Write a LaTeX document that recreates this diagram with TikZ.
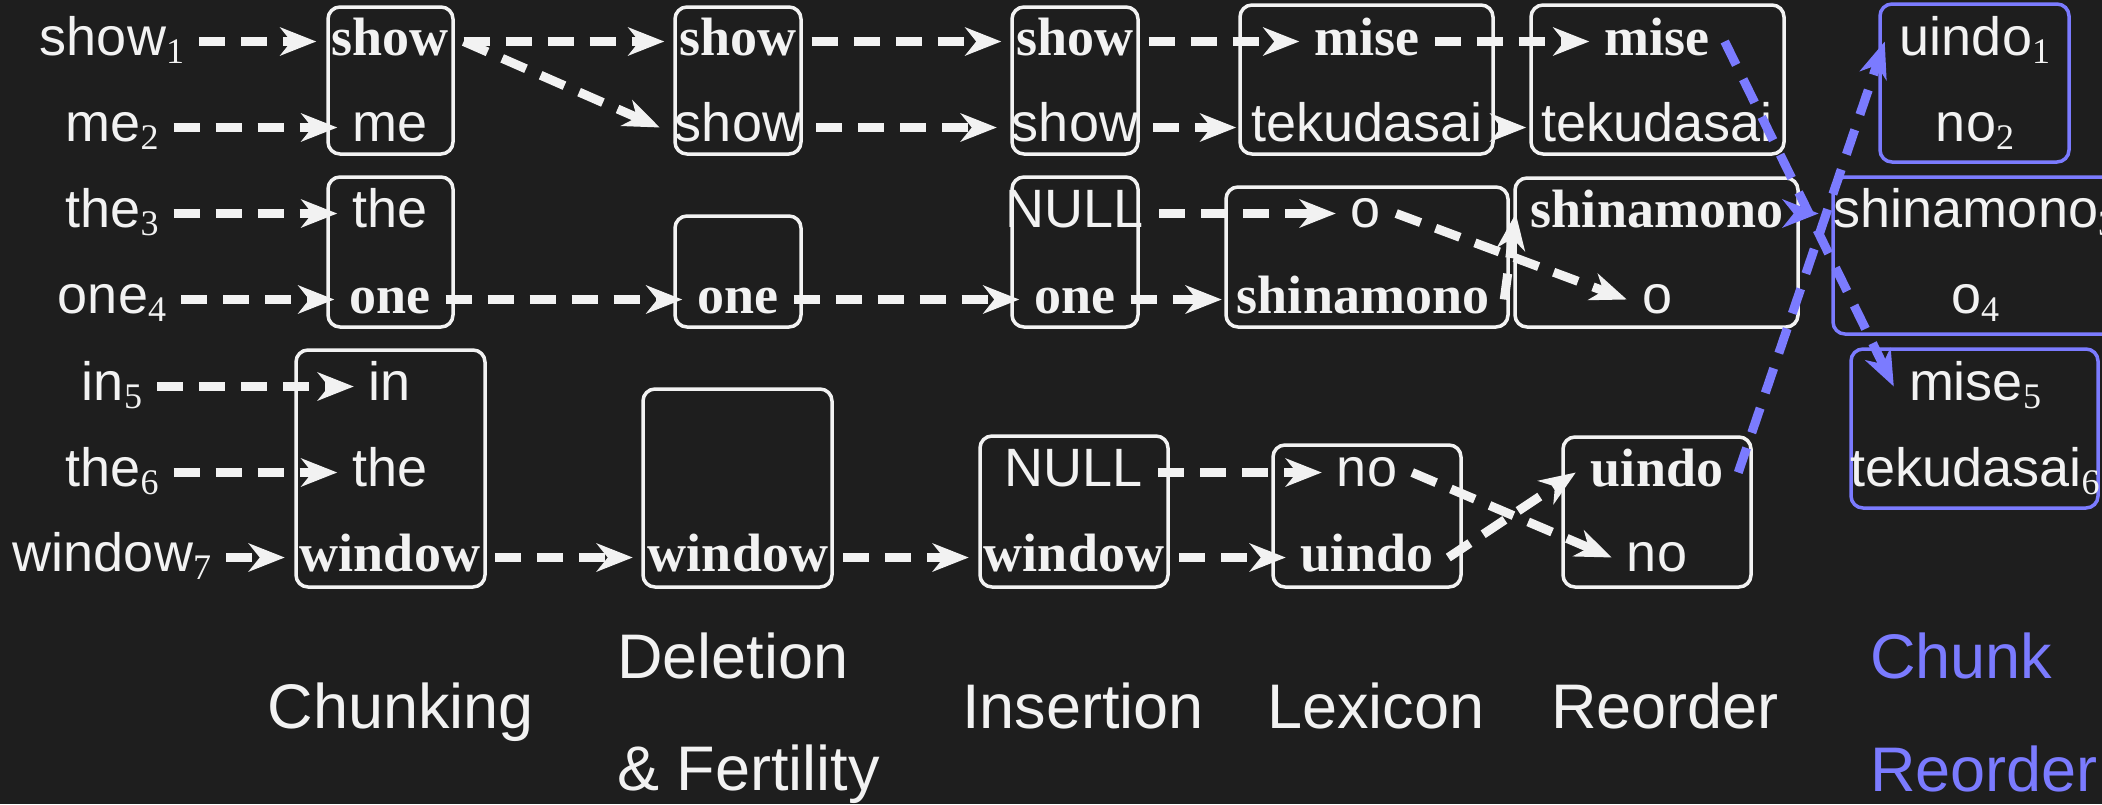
\documentclass[tikz,border=0pt]{standalone}
\usepackage{fontspec}
\setmainfont{Liberation Sans}
\newfontfamily\tms{Liberation Serif}
\usetikzlibrary{arrows.meta,fit}
\definecolor{bg}{HTML}{1E1E1E}
\definecolor{fg}{HTML}{F2F2F2}
\definecolor{chunkblue}{HTML}{7B7BFF}
% word position index, set as a lowered serif digit
\newcommand\idx[1]{\raisebox{-8pt}{\tms\fontsize{36}{36}\selectfont #1}}

\tikzset{
  word/.style={font=\fontsize{54}{60}\selectfont, text=fg, inner xsep=15pt, inner ysep=2pt,
               text height=39pt, text depth=12pt, anchor=base},
  kw/.style={word, font=\tms\bfseries\fontsize{54}{60}\selectfont},
  box/.style={draw=fg, line width=3.5pt, rounded corners=12pt, inner sep=0pt},
  bbox/.style={box, draw=chunkblue},
  flow/.style={color=fg, line width=9pt, dash pattern=on 26pt off 16pt,
               -{Stealth[length=36pt,width=28pt,inset=11pt]}},
  bflow/.style={flow, color=chunkblue},
  stage/.style={font=\fontsize{63}{70}\selectfont, text=fg, inner sep=0pt, anchor=base},
  bstage/.style={stage, text=chunkblue, anchor=base west},
}

\begin{document}
\begin{tikzpicture}[x=1pt,y=-1pt]
\useasboundingbox (0,0) rectangle (2102,804);
\clip (0,0) rectangle (2102,804);
\fill[bg] (0,0) rectangle (2102,804);

% row baselines
\def\ba{55}\def\bb{141}\def\bc{227}\def\bd{313}\def\be{400}\def\bf{486}\def\bg{571}

% stage boxes
\node[box, fit={(328,7) (453,154)}] (C1) {};
\node[box, fit={(328,177) (453,327)}] (C2) {};
\node[box, fit={(296,350) (485,587)}] (C3) {};
\node[box, fit={(675,7) (801,154)}] (D1) {};
\node[box, fit={(675,216) (801,327)}] (D2) {};
\node[box, fit={(643,389) (832,587)}] (D3) {};
\node[box, fit={(1012,7) (1138,154)}] (I1) {};
\node[box, fit={(1012,177) (1138,327)}] (I2) {};
\node[box, fit={(980,436) (1168,587)}] (I3) {};
\node[box, fit={(1240,5) (1493,154)}] (L1) {};
\node[box, fit={(1226,187) (1508,327)}] (L2) {};
\node[box, fit={(1273,445) (1461,587)}] (L3) {};
\node[box, fit={(1531,5) (1784,154)}] (R1) {};
\node[box, fit={(1515,178) (1798,327)}] (R2) {};
\node[box, fit={(1563,437) (1751,587)}] (R3) {};
\node[bbox, fit={(1880,4) (2069,162)}] (Q1) {};
\node[bbox, fit={(1833,177) (2117,334)}] (Q2) {};
\node[bbox, fit={(1851,349) (2098,508)}] (Q3) {};

% source sentence
\node[word] (s1) at (112,\ba) {show\idx{1}};
\node[word] (s2) at (112,\bb) {me\idx{2}};
\node[word] (s3) at (112,\bc) {the\idx{3}};
\node[word] (s4) at (112,\bd) {one\idx{4}};
\node[word] (s5) at (112,\be) {in\idx{5}};
\node[word] (s6) at (112,\bf) {the\idx{6}};
\node[word] (s7) at (112,\bg) {window\idx{7}};

% chunking
\node[kw]   (c1a) at (390,\ba) {show};
\node[word] (c1b) at (390,\bb) {me};
\node[word] (c2a) at (390,\bc) {the};
\node[kw]   (c2b) at (390,\bd) {one};
\node[word] (c3a) at (390,\be) {in};
\node[word] (c3b) at (390,\bf) {the};
\node[kw]   (c3c) at (390,\bg) {window};

% deletion and fertility
\node[kw]   (d1a) at (738,\ba) {show};
\node[word] (d1b) at (738,\bb) {show};
\node[kw]   (d2b) at (738,\bd) {one};
\node[kw]   (d3c) at (738,\bg) {window};

% insertion
\node[kw]   (i1a) at (1075,\ba) {show};
\node[word] (i1b) at (1075,\bb) {show};
\node[word] (i2a) at (1075,\bc) {NULL};
\node[kw]   (i2b) at (1075,\bd) {one};
\node[word] (i3b) at (1074,\bf) {NULL};
\node[kw]   (i3c) at (1074,\bg) {window};

% lexicon
\node[kw]   (l1a) at (1367,\ba) {mise};
\node[word] (l1b) at (1367,\bb) {tekudasai};
\node[word] (l2a) at (1366,\bc) {o};
\node[kw]   (l2b) at (1363,\bd) {shinamono};
\node[word] (l3b) at (1367,\bf) {no};
\node[kw]   (l3c) at (1367,\bg) {uindo};

% reorder
\node[kw]   (r1a) at (1657,\ba) {mise};
\node[word] (r1b) at (1657,\bb) {tekudasai};
\node[kw]   (r2a) at (1657,\bc) {shinamono};
\node[word] (r2b) at (1657,\bd) {o};
\node[kw]   (r3b) at (1657,\bf) {uindo};
\node[word] (r3c) at (1657,\bg) {no};

% chunk reorder
\node[word] (q1a) at (1975,\ba) {uindo\idx{1}};
\node[word] (q1b) at (1975,\bb) {no\idx{2}};
\node[word] (q2a) at (1975,\bc) {shinamono\idx{3}};
\node[word] (q2b) at (1975,\bd) {o\idx{4}};
\node[word] (q3a) at (1975,\be) {mise\idx{5}};
\node[word] (q3b) at (1975,\bf) {tekudasai\idx{6}};

% stage names
\node[stage] (n1) at (401,728) {Chunking};
\node[stage, anchor=base west] (n2a) at (617,678) {Deletion};
\node[stage, anchor=base west] (n2b) at (617,790) {\& Fertility};
\node[stage] (n3) at (1083,728) {Insertion};
\node[stage] (n4) at (1376,728) {Lexicon};
\node[stage] (n5) at (1665,728) {Reorder};
\node[bstage] (n6a) at (1870,678) {Chunk};
\node[bstage] (n6b) at (1870,791) {Reorder};

% source words into chunks
\draw[flow] (s1.east) -- (c1a.west);
\draw[flow] (s2.east) -- (c1b.west);
\draw[flow] (s3.east) -- (c2a.west);
\draw[flow] (s4.east) -- (c2b.west);
\draw[flow] (s5.east) -- (c3a.west);
\draw[flow] (s6.east) -- (c3b.west);
\draw[flow] (s7.east) -- (c3c.west);

% chunking -> deletion & fertility
\draw[flow] (c1a.east) -- (d1a.west);
\draw[flow] (c1a.east) -- (d1b.west);
\draw[flow] (c2b.east) -- (d2b.west);
\draw[flow] (c3c.east) -- (d3c.west);

% deletion & fertility -> insertion
\draw[flow] (d1a.east) -- (i1a.west);
\draw[flow] (d1b.east) -- (i1b.west);
\draw[flow] (d2b.east) -- (i2b.west);
\draw[flow] (d3c.east) -- (i3c.west);

% insertion -> lexicon
\draw[flow] (i1a.east) -- (l1a.west);
\draw[flow] (i1b.east) -- (l1b.west);
\draw[flow] (i2a.east) -- (l2a.west);
\draw[flow] (i2b.east) -- (l2b.west);
\draw[flow] (i3b.east) -- (l3b.west);
\draw[flow] (i3c.east) -- (l3c.west);

% lexicon -> reorder
\draw[flow] (l1a.east) -- (r1a.west);
\draw[flow] (l1b.east) -- (r1b.west);
\draw[flow] (l2a.east) -- (r2b.west);
\draw[flow] (l2b.east) -- (r2a.west);
\draw[flow] (l3b.east) -- (r3c.west);
\draw[flow] (l3c.east) -- (r3b.west);

% reorder -> chunk reorder
\draw[bflow] (r1a.east) -- (q3a.west);
\draw[bflow] (r2a.east) -- (q2a.west);
\draw[bflow] (r3b.east) -- (q1a.west);
\end{tikzpicture}
\end{document}
